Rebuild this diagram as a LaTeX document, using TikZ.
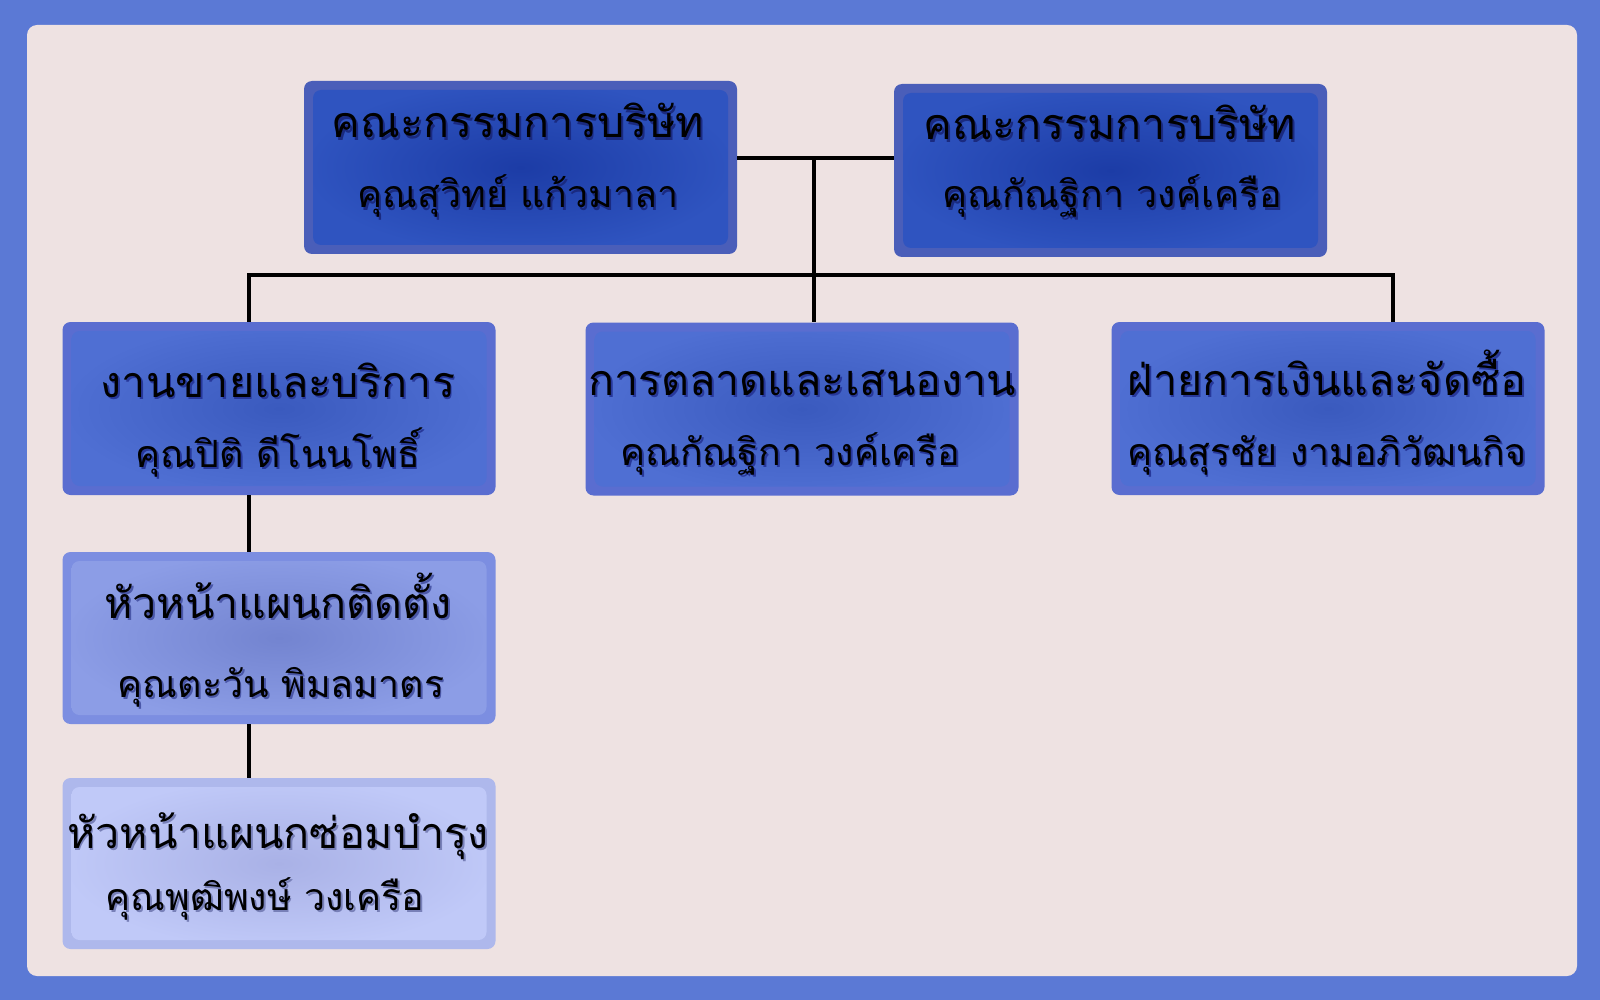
\documentclass[tikz,border=0pt]{standalone}
\usepackage{fontspec}
\newfontfamily\thai[Script=Thai]{Loma}
\definecolor{framecol}{HTML}{5B79D5}
\definecolor{panelcol}{HTML}{EEE2E2}
\definecolor{bdA}{HTML}{4A5EB9}
\definecolor{inA}{HTML}{1C3CA6}
\definecolor{outA}{HTML}{2F54C0}
\definecolor{bdB}{HTML}{5A6DD0}
\definecolor{inB}{HTML}{3A5ABE}
\definecolor{outB}{HTML}{4F6FD3}
\definecolor{bdC}{HTML}{7C8EE1}
\definecolor{inC}{HTML}{7384D0}
\definecolor{outC}{HTML}{8C9DE6}
\definecolor{bdD}{HTML}{AEB8EC}
\definecolor{inD}{HTML}{A9B1E6}
\definecolor{outD}{HTML}{C0C9F8}
\definecolor{shA}{HTML}{1A2A80}
\definecolor{shB}{HTML}{27389A}
\definecolor{shC}{HTML}{4A57A8}
\definecolor{shD}{HTML}{7880B8}
\colorlet{shcol}{black}
\newcommand\sh[1]{\makebox[0pt][l]{\kern1.8pt\raisebox{-2.2pt}{\color{shcol}#1}}#1}
\begin{document}
\begin{tikzpicture}[x=1pt,y=-1pt,
  orgbox/.style n args={3}{rectangle, rounded corners=8pt, inner sep=0pt,
    minimum width=433pt, minimum height=173pt, fill=#1,
    path picture={\shade[inner color=#2, outer color=#3]
      ([xshift=9pt,yshift=-9pt]path picture bounding box.north west) rectangle
      ([xshift=-9pt,yshift=9pt]path picture bounding box.south east);}},
  shadowcol/.style={execute at begin node={\colorlet{shcol}{#1}}},
  ttl/.style={anchor=base, inner sep=0pt, text height=30pt, text depth=8pt,
    font=\thai\fontsize{43}{48}\selectfont, text=black},
  nm/.style={anchor=base, inner sep=0pt, text height=26pt, text depth=8pt,
    font=\thai\fontsize{37.5}{43}\selectfont, text=black},
  conn/.style={draw=black, line width=3.2pt}]
\useasboundingbox (0,0) rectangle (1600,1000);
\fill[framecol] (0,0) rectangle (1600,1000);
\fill[panelcol, rounded corners=10pt] (27,25) rectangle (1577,976);

% connectors
\coordinate (j) at (814,158);
\coordinate (bus) at (814,275);
\coordinate (lx) at (249,275);
\coordinate (rx) at (1393,275);

% boxes
\node[orgbox={bdA}{inA}{outA}] (b1) at (520.5,167.5) {};
\node[orgbox={bdA}{inA}{outA}] (b2) at (1110.5,170.5) {};
\node[orgbox={bdB}{inB}{outB}] (b3) at (279,408.5) {};
\node[orgbox={bdB}{inB}{outB}] (b4) at (802,409) {};
\node[orgbox={bdB}{inB}{outB}] (b5) at (1328,408.5) {};
\node[orgbox={bdC}{inC}{outC}, minimum height=172pt] (b6) at (279,638) {};
\node[orgbox={bdD}{inD}{outD}, minimum height=171pt] (b7) at (279,863.5) {};

\draw[conn] (b1.east |- j) -- (b2.west |- j);
\draw[conn] (j) -- (bus);
\draw[conn, line cap=rect] (lx) -- (rx);
\draw[conn] (lx) -- (lx |- b3.north);
\draw[conn] (bus) -- (bus |- b4.north);
\draw[conn] (rx) -- (rx |- b5.north);
\draw[conn] (lx |- b3.south) -- (lx |- b6.north);
\draw[conn] (lx |- b6.south) -- (lx |- b7.north);

% texts
\node[ttl, shadowcol=shA] (t1) at (518,138) {\sh{คณะกรรมการบริษัท}};
\node[nm, shadowcol=shA] (n1) at (518,208) {\sh{คุณสุวิทย์ แก้วมาลา}};
\node[ttl, shadowcol=shA] (t2) at (1110,140) {\sh{คณะกรรมการบริษัท}};
\node[nm, shadowcol=shA] (n2) at (1112,208) {\sh{คุณกัณฐิกา วงค์เครือ}};
\node[ttl, shadowcol=shB] (t3) at (278,397) {\sh{งานขายและบริการ}};
\node[nm, shadowcol=shB] (n3) at (278,467) {\sh{คุณปิติ ดีโนนโพธิ์}};
\node[ttl, shadowcol=shB] (t4) at (802,395) {\sh{การตลาดและเสนองาน}};
\node[nm, shadowcol=shB] (n4) at (790,465) {\sh{คุณกัณฐิกา วงค์เครือ}};
\node[ttl, shadowcol=shB] (t5) at (1327,395) {\sh{ฝ่ายการเงินและจัดซื้อ}};
\node[nm, shadowcol=shB] (n5) at (1327,465) {\sh{คุณสุรชัย งามอภิวัฒนกิจ}};
\node[ttl, shadowcol=shC] (t6) at (278,618) {\sh{หัวหน้าแผนกติดตั้ง}};
\node[nm, shadowcol=shC] (n6) at (281,697) {\sh{คุณตะวัน พิมลมาตร}};
\node[ttl, shadowcol=shD] (t7) at (278,848) {\sh{หัวหน้าแผนกซ่อมบำรุง}};
\node[nm, shadowcol=shD] (n7) at (265,910) {\sh{คุณพุฒิพงษ์ วงเครือ}};
\end{tikzpicture}
\end{document}
